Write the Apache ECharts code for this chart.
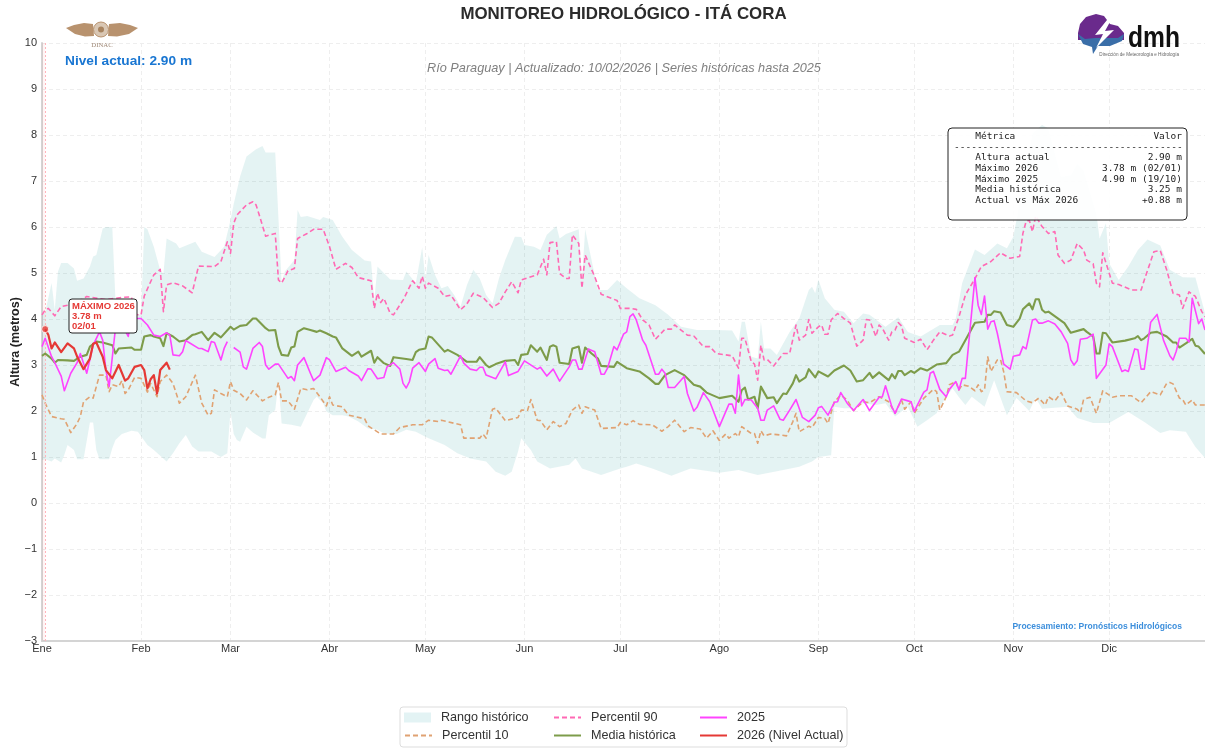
<!DOCTYPE html>
<html><head><meta charset="utf-8">
<script src="https://cdn.jsdelivr.net/npm/echarts@6/dist/echarts.min.js"></script>
<style>html,body{margin:0;padding:0;background:#fff}#c{width:1205px;height:748px}</style>
</head><body><div id="c"></div>
<script>
const monthDays=[0,31,59,90,120,151,181,212,243,273,304,334];
const monthLabels=['Ene','Feb','Mar','Abr','May','Jun','Jul','Ago','Sep','Oct','Nov','Dic'];
const rangeMax=[[0,4.1],[1,4.15],[3,4.78],[4,4.2],[5,5.03],[6,5.22],[8,5.22],[10,5.1],[11,4.83],[13,4.88],[15,5.14],[16,5.36],[17,5.39],[19,5.97],[20,6],[22,6],[23,4.4],[24,4.1],[31,4.1],[32,6],[33,5.95],[35,5.57],[37,5.06],[38,4.99],[39,5.75],[42,5.64],[43,5.54],[48,5.68],[50,5.46],[54,5.35],[57,5.57],[59,6.15],[60,6.5],[62,7.1],[64,7.53],[67,7.69],[69,7.76],[70,7.62],[73,7.62],[74,6.2],[75,4.78],[76,5.03],[79,5.28],[80,6.37],[81,6.22],[83,6.24],[87,6.15],[88,6.22],[91,6.15],[94,5.79],[97,5.5],[101,5.27],[103,5.25],[104,4.41],[105,5.14],[107,5],[109,4.86],[113,4.85],[114,5.03],[117,4.78],[119,5.56],[120,4.85],[121,5.39],[123,4.96],[125,4.67],[127,4.72],[129,4.52],[131,4.27],[133,4.74],[135,5.07],[137,4.88],[139,4.52],[141,4.34],[143,4.88],[145,5.28],[148,5.79],[150,5.78],[151,5.61],[154,5.57],[156,5.5],[158,5.83],[161,6.02],[162,5.75],[164,5.85],[168,5.95],[169,4.85],[170,5.95],[172,5.28],[174,4.63],[177,4.63],[180,4.85],[183,4.67],[187,4.45],[192,4.3],[196,4.09],[200,3.83],[205,3.76],[211,3.76],[216,3.75],[218,3.51],[219,3.94],[220,3.94],[222,3.18],[224,3.14],[225,3.94],[226,3.36],[228,3.36],[230,3.22],[234,3.72],[237,4.01],[240,4.63],[241,4.7],[242,4.56],[243,4.86],[245,4.45],[248,4.2],[251,4.16],[254,3.91],[257,4.12],[259,4.09],[264,3.83],[268,4.04],[271,3.72],[275,3.62],[281,3.87],[285,3.87],[286,4.01],[288,4.78],[292,5.51],[295,5.39],[299,5.64],[302,5.54],[304,5.79],[305,6.15],[307,7.02],[310,8.04],[313,8.22],[315,8.14],[319,7.09],[322,7.13],[324,7.38],[326,7.24],[330,6.3],[331,5.75],[333,6.08],[334,5.21],[337,4.85],[340,5.14],[343,5.5],[346,5.73],[350,5.6],[353,5.07],[357,4.91],[360,4.9],[361,4.9],[364,4.13]];
const rangeMin=[[0,.93],[1,.95],[3,.9],[4,.97],[6,.88],[7,1.05],[8,1.26],[10,1.15],[11,.95],[13,.95],[15,1.75],[16,1.75],[17,1.15],[18,.95],[21,.95],[22,1.19],[23,1.37],[25,1.5],[28,1.57],[30,1.55],[33,1.26],[35,1.15],[39,.9],[41,1.08],[43,1.3],[45,1.48],[47,1.23],[49,1.12],[53,1.12],[56,1],[58,1.08],[59,2],[60,1.5],[61,1.37],[62,1.33],[64,1.66],[66,1.53],[69,1.4],[70,1.4],[71,1.91],[73,2.02],[74,2.62],[75,1.73],[78,1.7],[81,1.66],[83,1.95],[85,2.24],[86,2.31],[88,2.17],[89,1.99],[91,1.91],[94,1.91],[96,1.88],[99,1.77],[102,1.62],[105,1.59],[107,1.51],[111,1.5],[114,1.59],[117,1.55],[120,1.44],[121,1.41],[126,1.26],[130,1.08],[134,.97],[139,.9],[142,.68],[145,.59],[147,.68],[149,1.12],[150,1.41],[153,1.15],[155,.9],[159,.75],[165,.83],[167,.97],[169,.75],[175,.61],[178,.68],[181,.75],[183,.79],[186,.86],[191,.75],[197,.59],[203,.75],[212,.66],[218,.72],[224,.61],[232,.72],[237,.79],[241,.9],[243,1],[247,1.04],[248,2.09],[251,2.06],[254,2.06],[257,2.17],[261,2.13],[264,2.17],[267,1.88],[271,2.09],[274,1.66],[277,1.8],[280,1.95],[283,2.31],[285,2.49],[287,2.3],[289,2.13],[291,2.31],[295,2.09],[298,2.67],[302,1.91],[305,2.28],[309,2],[311,2.28],[313,2.05],[321,2.09],[324,1.85],[329,1.74],[334,1.74],[340,1.98],[345,1.76],[350,1.52],[353,1.58],[358,1.55],[361,1.22],[364,.98]];
const p90=[[0,4.09],[1,4.2],[2,4.23],[4,4.07],[6,4.27],[8,4.3],[12,4.4],[14,4.49],[20,4.42],[25,4.47],[28,4.48],[29,4.1],[31,4.09],[32,4.5],[34,4.81],[35,4.96],[37,5.08],[38,4.16],[39,4.74],[41,4.79],[44,4.72],[47,4.57],[49,5.15],[54,5.14],[56,5.25],[58,5.68],[59,5.43],[60,6.08],[61,6.26],[64,6.48],[66,6.55],[67,6.48],[68,6.26],[70,5.8],[73,5.86],[74,4.85],[75,4.78],[77,5.05],[79,5.1],[80,5.75],[83,5.86],[85,5.95],[88,5.95],[90,5.57],[92,5.08],[95,5.21],[97,5.12],[99,4.9],[103,4.83],[104,4.23],[105,4.56],[106,4.36],[107,4.45],[109,4.12],[110,4.09],[113,4.41],[116,4.83],[118,4.67],[119,4.93],[120,4.67],[121,4.78],[124,4.67],[126,4.49],[128,4.52],[131,4.2],[133,4.33],[135,4.56],[138,4.47],[141,4.25],[143,4.34],[145,4.59],[147,4.81],[149,4.57],[150,4.85],[155,4.96],[157,5.3],[158,4.96],[159,5.66],[161,5.68],[162,4.99],[164,4.88],[165,4.88],[166,5.83],[168,5.64],[169,4.67],[170,5.39],[173,4.92],[175,4.54],[180,4.4],[181,4.23],[184,4.23],[186,4.21],[188,3.98],[190,3.87],[192,3.56],[195,3.78],[197,3.78],[198,3.87],[202,3.65],[204,3.63],[207,3.4],[209,3.4],[211,3.25],[216,3.2],[218,2.93],[219,3.58],[220,3.58],[222,3.07],[223,3.02],[224,2.67],[225,3.43],[226,3.11],[227,3.12],[229,2.98],[232,3.25],[234,3.25],[236,3.87],[237,3.54],[239,3.65],[240,3.99],[241,3.69],[243,3.83],[244,3.87],[245,3.67],[246,3.67],[247,3.98],[249,4.12],[251,4.01],[253,3.91],[255,3.41],[257,3.54],[258,3.99],[259,3.98],[261,3.62],[262,3.87],[263,3.8],[265,3.54],[266,3.72],[267,3.76],[268,3.92],[269,3.85],[270,3.58],[273,3.49],[275,3.56],[277,3.33],[279,3.54],[281,3.72],[284,3.63],[285,3.65],[287,4.05],[289,4.52],[292,4.88],[294,5.14],[297,5.25],[300,5.44],[303,5.32],[306,5.36],[307,5.86],[308,6.12],[309,6.15],[310,5.9],[311,6.24],[313,6.01],[315,5.86],[317,5.9],[318,5.39],[320,5.21],[322,5.28],[324,5.64],[326,5.5],[327,5.28],[329,5.2],[330,4.78],[331,4.7],[332,5.44],[335,4.78],[337,4.75],[341,4.63],[344,4.63],[345,4.85],[348,5.46],[350,5.49],[352,5.07],[354,4.56],[356,4.52],[357,4.23],[359,4.59],[361,4.49],[363,4.16],[364,4.05]];
const p10=[[0,2.35],[1,2.17],[3,1.88],[6,1.83],[7,1.82],[9,1.53],[11,1.73],[12,1.88],[13,2.2],[15,2.31],[16,2.28],[18,2.78],[20,2.78],[21,2.42],[22,2.57],[24,2.53],[25,2.66],[26,2.38],[27,2.46],[29,2.73],[31,2.71],[33,2.41],[34,2.6],[36,2.31],[37,2.64],[39,2.78],[41,2.6],[43,2.17],[45,2.31],[48,2.78],[50,2.17],[52,1.91],[53,1.95],[54,2.46],[56,2.38],[58,2.31],[59,2.64],[60,2.45],[62,2.38],[64,2.24],[66,2.44],[69,2.22],[71,2.3],[73,2.35],[74,2.62],[75,2.22],[77,2.22],[79,2.04],[81,2.49],[83,2.46],[85,2.49],[87,2.31],[89,2.11],[90,2.31],[91,2.13],[94,2.09],[96,1.91],[101,1.83],[102,1.68],[106,1.5],[110,1.5],[112,1.64],[116,1.7],[119,1.7],[121,1.8],[124,1.77],[125,1.8],[131,1.7],[132,1.41],[137,1.41],[138,1.5],[139,1.41],[141,2.04],[142,2.06],[145,1.79],[149,1.86],[150,2.02],[152,2.02],[153,2.25],[155,1.8],[156,1.79],[158,1.59],[160,1.77],[162,1.66],[164,1.73],[166,2.02],[168,2.13],[169,1.95],[170,2.09],[173,2.02],[175,1.62],[180,1.64],[181,1.75],[183,1.7],[185,1.79],[187,1.71],[191,1.7],[194,1.56],[196,1.66],[198,1.8],[201,1.55],[203,1.64],[206,1.61],[208,1.41],[210,1.57],[212,1.36],[214,1.5],[215,1.41],[217,1.51],[218,1.44],[219,1.66],[222,1.51],[223,1.51],[224,1.3],[225,1.57],[226,1.46],[228,1.5],[231,1.48],[233,1.46],[235,1.77],[236,1.95],[237,1.55],[240,1.67],[241,1.64],[243,1.86],[245,1.84],[246,1.73],[248,2.2],[250,2.35],[252,2.24],[254,2.01],[257,2.2],[259,2.18],[262,2.31],[265,2.2],[267,1.95],[269,2.24],[270,2.04],[272,2.2],[273,1.95],[276,2.28],[279,2.47],[280,2.42],[281,2.02],[283,2.31],[284,2.57],[286,2.64],[287,2.46],[288,2.57],[290,2.54],[292,2.44],[293,2.57],[294,2.42],[295,2.46],[296,3.18],[297,2.86],[299,3.11],[300,3.12],[301,2.85],[302,2.42],[305,2.4],[308,2.22],[310,2.18],[312,2.28],[314,2.13],[315,2.31],[317,2.22],[319,2.4],[321,2.11],[324,2.04],[325,1.96],[326,2.25],[328,2.3],[330,1.95],[332,2.44],[335,2.3],[337,2.33],[341,2.33],[344,2.18],[347,2.42],[350,2.35],[352,2.6],[353,2.62],[354,2.59],[356,2.28],[357,2.25],[358,2.13],[360,2.24],[361,2.13],[364,2.13]];
const media=[[0,3.2],[1,3.25],[3,3.14],[4,3.05],[5,3.11],[8,3.1],[10,3.09],[12,3.18],[14,3.22],[15,3.4],[17,3.51],[19,3.49],[22,3.43],[23,3.25],[24,3.36],[28,3.38],[29,3.33],[31,3.33],[32,3.62],[34,3.65],[35,3.62],[37,3.58],[38,3.41],[39,3.69],[41,3.62],[43,3.51],[45,3.54],[47,3.65],[48,3.67],[50,3.72],[52,3.54],[54,3.7],[56,3.6],[59,3.83],[60,3.77],[62,3.85],[64,3.87],[66,4.01],[67,4.01],[68,3.94],[70,3.8],[71,3.75],[73,3.76],[74,3.4],[75,3.22],[77,3.2],[78,3.38],[79,3.4],[80,3.72],[82,3.8],[84,3.76],[86,3.72],[87,3.75],[89,3.69],[91,3.62],[92,3.6],[94,3.36],[97,3.2],[99,3.29],[100,3.18],[103,3.31],[104,3.05],[105,3.17],[107,3.04],[109,2.98],[110,3.17],[114,3.13],[116,3.11],[117,3.28],[118,3.33],[120,3.36],[121,3.62],[122,3.6],[126,3.29],[127,3.33],[130,3.22],[133,3.07],[136,3.07],[137,3.17],[139,3],[140,2.95],[142,3.02],[145,3.09],[148,3.11],[149,3],[150,3.22],[152,3.24],[153,3.43],[155,3.29],[156,3.38],[158,3.11],[159,3.4],[160,3.43],[161,3.4],[162,3.05],[165,3.02],[166,3.36],[168,3.4],[169,3.05],[170,3.38],[172,3.25],[174,3.14],[175,2.98],[179,2.96],[180,3.07],[183,2.93],[187,2.86],[190,2.71],[192,2.59],[193,2.59],[195,2.78],[198,2.89],[201,2.78],[204,2.57],[206,2.53],[208,2.4],[212,2.28],[216,2.33],[218,2.2],[219,2.45],[220,2.51],[221,2.25],[223,2.31],[224,2.06],[225,2.53],[227,2.28],[229,2.3],[230,2.17],[232,2.38],[233,2.37],[235,2.6],[236,2.78],[237,2.64],[239,2.73],[240,2.91],[242,2.73],[243,2.86],[246,2.75],[248,2.88],[251,2.99],[253,2.88],[255,2.64],[257,2.67],[259,2.83],[260,2.72],[262,2.84],[265,2.67],[266,2.8],[267,2.71],[268,2.87],[269,2.87],[270,2.78],[272,2.87],[273,2.83],[275,2.93],[277,2.88],[280,3.01],[283,3.04],[285,3.22],[287,3.29],[289,3.54],[292,3.92],[295,3.94],[296,4.09],[297,4.09],[298,4.17],[300,4.14],[302,3.87],[304,3.83],[306,4.01],[307,4.21],[309,4.34],[310,4.21],[311,4.43],[312,4.43],[313,4.2],[314,4.14],[315,4.16],[320,3.91],[322,3.7],[326,3.78],[327,3.72],[329,3.62],[330,3.25],[331,3.25],[332,3.7],[333,3.69],[335,3.49],[339,3.53],[342,3.58],[343,3.63],[344,3.54],[345,3.58],[347,3.7],[349,3.72],[352,3.62],[354,3.49],[355,3.49],[356,3.38],[358,3.47],[360,3.57],[361,3.42],[362,3.4],[364,3.24]];
const year2025=[[0,3.4],[1,3.58],[3,3.18],[4,3.05],[6,2.76],[7,2.44],[9,2.82],[11,3.05],[12,3.25],[14,2.82],[16,3.43],[18,3.72],[19,3.54],[20,2.89],[21,2.53],[23,3.8],[24,4.02],[27,3.62],[28,4.01],[30,4.01],[31,4.01],[33,3.87],[35,3.65],[37,3.62],[39,3.7],[40,3.65],[41,3.22],[43,3.2],[44,3.29],[45,3.53],[46,3.49],[49,3.36],[50,3.36],[52,3.29],[53,3.51],[54,3.49],[56,3.11],[57,3.36],[58,3.51],[59,null],[60,3.38],[62,3.28],[63,2.96],[64,2.91],[66,3.36],[68,3.49],[69,3.4],[70,3],[71,2.91],[73,3.02],[74,3.02],[77,2.71],[78,2.75],[79,2.66],[80,3],[82,3.16],[84,2.82],[85,2.66],[87,2.78],[89,3.16],[90,3.11],[92,2.86],[95,2.95],[96,2.88],[99,2.76],[100,2.66],[102,2.92],[103,2.91],[105,2.7],[107,2.73],[108,2.96],[110,3.05],[112,2.91],[113,2.6],[114,2.5],[115,2.64],[116,2.93],[118,3.05],[120,2.86],[121,3.02],[123,3.14],[124,2.93],[126,2.88],[127,2.89],[128,2.8],[129,2.93],[131,3.2],[132,3.04],[134,2.91],[136,2.88],[137,2.95],[138,2.95],[139,2.78],[142,2.7],[145,3.07],[146,2.77],[149,2.86],[151,3.09],[155,2.91],[156,2.95],[158,2.76],[160,2.91],[162,2.65],[165,2.96],[166,3.11],[167,3.11],[168,2.91],[169,2.91],[171,3.35],[173,3.29],[175,2.8],[176,2.8],[177,2.93],[179,3.4],[180,3.33],[182,3.67],[183,3.72],[184,4.05],[185,4.11],[186,3.98],[188,3.54],[189,3.43],[192,2.8],[193,2.8],[194,2.91],[195,2.82],[196,2.51],[198,2.51],[201,2.75],[202,2.38],[204,2],[205,2.08],[207,2.4],[209,2.2],[212,1.66],[215,2.15],[216,2.15],[217,1.95],[218,2.78],[219,2.11],[220,2.25],[222,2.24],[224,2.06],[225,1.8],[226,1.8],[227,2.02],[229,2.11],[231,1.82],[232,1.8],[234,2.02],[236,2.25],[238,1.86],[240,1.77],[242,1.91],[243,2.07],[244,2.1],[246,1.91],[248,2.19],[249,2.2],[250,2.4],[252,2.17],[254,2.01],[257,2.25],[259,2.01],[262,2.3],[263,2.31],[264,2.55],[266,2.09],[267,1.95],[269,2.26],[271,2.22],[272,2.2],[273,1.99],[276,2.41],[277,2.46],[278,2.82],[279,2.86],[281,2.47],[283,2.31],[284,2.47],[286,2.64],[287,2.46],[288,2.71],[289,2.71],[292,4.9],[293,4.3],[294,4.1],[295,4.5],[296,3.78],[297,3.94],[298,3.96],[299,3.69],[301,3.02],[303,2.91],[304,3.19],[306,3.22],[307,3.4],[308,3.35],[310,3.98],[311,4],[312,3.91],[313,3.91],[315,3.96],[317,3.89],[319,3.72],[321,3.47],[322,3.11],[323,3],[324,3.09],[325,3.56],[327,3.58],[329,3.67],[330,2.71],[333,3],[334,3.46],[335,3.4],[338,2.86],[339,2.89],[340,2.86],[342,3.35],[343,3.33],[344,2.91],[345,2.91],[347,3.93],[349,4.1],[351,3.54],[353,3.2],[354,3.11],[355,3.3],[356,3.58],[358,3.58],[359,3.5],[360,4.45],[362,3.9],[363,4],[364,3.76]];
const year2026=[[1,3.78],[2,3.65],[3,3.36],[4,3.49],[6,3.28],[8,3.47],[10,3.36],[11,3.18],[13,2.91],[15,3.14],[16,3.46],[17,3.49],[19,3.18],[20,2.89],[22,2.71],[24,3],[26,2.66],[27,2.71],[29,2.96],[31,3],[32,2.89],[33,2.49],[34,2.69],[35,2.78],[36,2.38],[37,2.89],[39,3.05],[40,2.9]];
const maxPoint=[[1,3.78]];
const tableHeader=['Métrica','Valor'];
const tableRows=[['Altura actual','2.90 m'],['Máximo 2026','3.78 m (02/01)'],['Máximo 2025','4.90 m (19/10)'],['Media histórica','3.25 m'],['Actual vs Máx 2026','+0.88 m']];
const FS='"Liberation Sans",Arial,sans-serif', MONO='"DejaVu Sans Mono",monospace';
const BAND='rgba(0,139,139,0.105)';
const chart=echarts.init(document.getElementById('c'),null,{renderer:'canvas'});
function txt(text,x,y,font,fill,align,extra){return Object.assign({type:'text',z:100,silent:true,style:{text,x,y,font,fill,textAlign:align||'left',textVerticalAlign:'middle'}},extra||{});}
function poly(points,fill,z){return {type:'polygon',z:z||100,silent:true,shape:{points},style:{fill}};}
const gfx=[
 txt('MONITOREO HIDROLÓGICO - ITÁ CORA',623.5,14.5,'bold 16.9px '+FS,'#2b2b2b','center'),
 txt('Río Paraguay | Actualizado: 10/02/2026 | Series históricas hasta 2025',624,68.5,'italic 12.7px '+FS,'#808080','center'),
 txt('Nivel actual: 2.90 m',65,61,'bold 13.7px '+FS,'#1976d2'),
 txt('Procesamiento: Pronósticos Hidrológicos',1182,626.5,'bold 8.5px '+FS,'#3d8fdc','right'),
 {type:'rect',z:99,silent:true,shape:{x:948,y:128,width:239,height:92,r:4},style:{fill:'rgba(255,255,255,0.92)',stroke:'#222',lineWidth:1}},
 txt(tableHeader[0],975.3,137,'9.5px '+MONO,'#222'),
 txt(tableHeader[1],1182,137,'9.5px '+MONO,'#222','right'),
 txt('-'.repeat(40),954,147.5,'9.5px '+MONO,'#222'),
 {type:'rect',z:99,silent:true,shape:{x:69,y:299,width:68,height:34,r:3},style:{fill:'#fff',stroke:'#222',lineWidth:1}},
 txt('MÁXIMO 2026',72,306,'bold 9.5px '+FS,'#e53935'),
 txt('3.78 m',72,316.5,'bold 9.5px '+FS,'#e53935'),
 txt('02/01',72,326.5,'bold 9.5px '+FS,'#e53935'),
 {type:'rect',z:1,silent:true,shape:{x:400,y:707,width:447,height:40,r:3},style:{fill:'#fff',stroke:'#ddd',lineWidth:1}},
 poly([[66,28],[74,25],[84,23],[93,24],[94,36],[85,36.5],[75,34]],'#b8926e'),
 poly([[138,28],[130,25],[120,23],[109,24],[108,36],[117,36.5],[129,34]],'#b8926e'),
 {type:'circle',z:100,silent:true,shape:{cx:101,cy:29.5,r:7.5},style:{fill:'#d9c7b4',stroke:'#b8926e',lineWidth:1}},
 {type:'circle',z:100,silent:true,shape:{cx:101,cy:29.5,r:3},style:{fill:'#a88460'}},
 txt('DINAC',102,45,'6.8px "Liberation Serif",serif','#a08a78','center'),
 poly([[1078,33],[1080,24],[1086,17],[1096,14],[1104,16],[1110,24],[1118,26],[1124,33],[1124,40],[1078,40]],'#6a2a8c'),
 poly([[1078,34],[1085,39],[1095,38],[1110,38],[1118,38],[1124,34],[1122,41],[1110,46],[1098,46],[1093,54],[1092,47],[1083,44]],'#3a6ea8'),
 poly([[1107,20],[1095,35],[1103,34],[1096,48],[1114,30],[1105,31],[1111,20]],'#fff',101),
 txt('dmh',1128,39,'bold 30px "Liberation Sans",sans-serif','#111','left',{originX:1128,originY:39,scaleX:.82}),
 txt('Dirección de Meteorología e Hidrología',1179,54.5,'4.6px '+FS,'#666','right')
];
tableRows.forEach((r,i)=>{const y=158+i*10.6;gfx.push(txt(r[0],975.3,y,'9.5px '+MONO,'#222'));gfx.push(txt(r[1],1182,y,'9.5px '+MONO,'#222','right'));});
function lg(name,x,y,icon){return {show:true,left:x,top:y-6,data:icon?[{name,icon}]:[name],itemWidth:27,itemHeight:10,itemGap:0,selectedMode:false,padding:0,itemStyle:icon?{}:{opacity:0},textStyle:{fontFamily:FS,fontSize:12.6,color:'#333',padding:[0,0,0,5]}};}
function line(name,data,color,width,dash,z){return {type:'line',name,data,showSymbol:false,symbol:'none',connectNulls:false,z,animation:false,silent:true,itemStyle:{color},lineStyle:{color,width,type:dash||'solid',join:'round',cap:'butt'}};}
const s2026=line('2026 (Nivel Actual)',year2026,'#e53935',2.2,null,7);
s2026.markLine={silent:true,symbol:'none',animation:false,label:{show:false},lineStyle:{color:'#ffb4bb',type:[2,2],width:1},data:[{xAxis:1}]};
s2026.markArea={silent:true,animation:false,itemStyle:{color:'rgba(255,0,0,0.04)'},data:[[{xAxis:0},{xAxis:1}]]};
chart.setOption({
 animation:false,backgroundColor:'#fff',
 grid:{left:42,right:0,top:43,bottom:107,containLabel:false,outerBoundsMode:'none'},
 xAxis:{type:'value',min:0,max:364,
  axisLine:{onZero:false,lineStyle:{color:'#d4d4d4',width:2}},
  axisTick:{show:false,customValues:monthDays},
  axisLabel:{customValues:monthDays,margin:2,color:'#333',fontFamily:FS,fontSize:11,hideOverlap:false,showMinLabel:true,formatter:v=>monthLabels[monthDays.indexOf(v)]||''},
  splitLine:{show:true,lineStyle:{color:'#eeeeee',type:[4,3],width:1}}},
 yAxis:{type:'value',min:-3,max:10,interval:1,name:'Altura (metros)',nameLocation:'middle',nameGap:20,nameMoveOverlap:false,
  nameTextStyle:{fontFamily:FS,fontWeight:'bold',fontSize:12.5,color:'#222'},
  axisLine:{show:true,onZero:false,lineStyle:{color:'#d4d4d4',width:2}},axisTick:{show:false},
  axisLabel:{margin:5,color:'#333',fontFamily:FS,fontSize:11,formatter:v=>String(v).replace('-','\u2212')},
  splitLine:{show:true,lineStyle:{color:'#eeeeee',type:[4,3],width:1}}},
 legend:[lg('Rango histórico',404,717,'rect'),lg('Percentil 10',404,735),lg('Percentil 90',553,717),lg('Media histórica',553,735),lg('2025',699,717),lg('2026 (Nivel Actual)',699,735)],
 graphic:gfx,
 series:[
  {type:'custom',name:'Rango histórico',data:[[0,0]],z:1,silent:true,animation:false,itemStyle:{color:'#e3f3f4'},
   renderItem:(p,api)=>({type:'polygon',shape:{points:rangeMax.concat(rangeMin.slice().reverse()).map(d=>api.coord(d))},style:{fill:BAND}})},
  line('Percentil 10',p10,'#e0a272',1.6,[5,3],3),
  line('Percentil 90',p90,'#ff69b4',1.6,[5,3],4),
  line('Media histórica',media,'#7d9c4a',2.1,null,5),
  line('2025',year2025,'#ff44ff',1.6,null,6),
  s2026,
  {type:'scatter',name:'max',data:maxPoint,symbolSize:7,z:8,silent:true,animation:false,itemStyle:{color:'#e53935',borderColor:'#fff',borderWidth:1}}
 ]
});
</script></body></html>
